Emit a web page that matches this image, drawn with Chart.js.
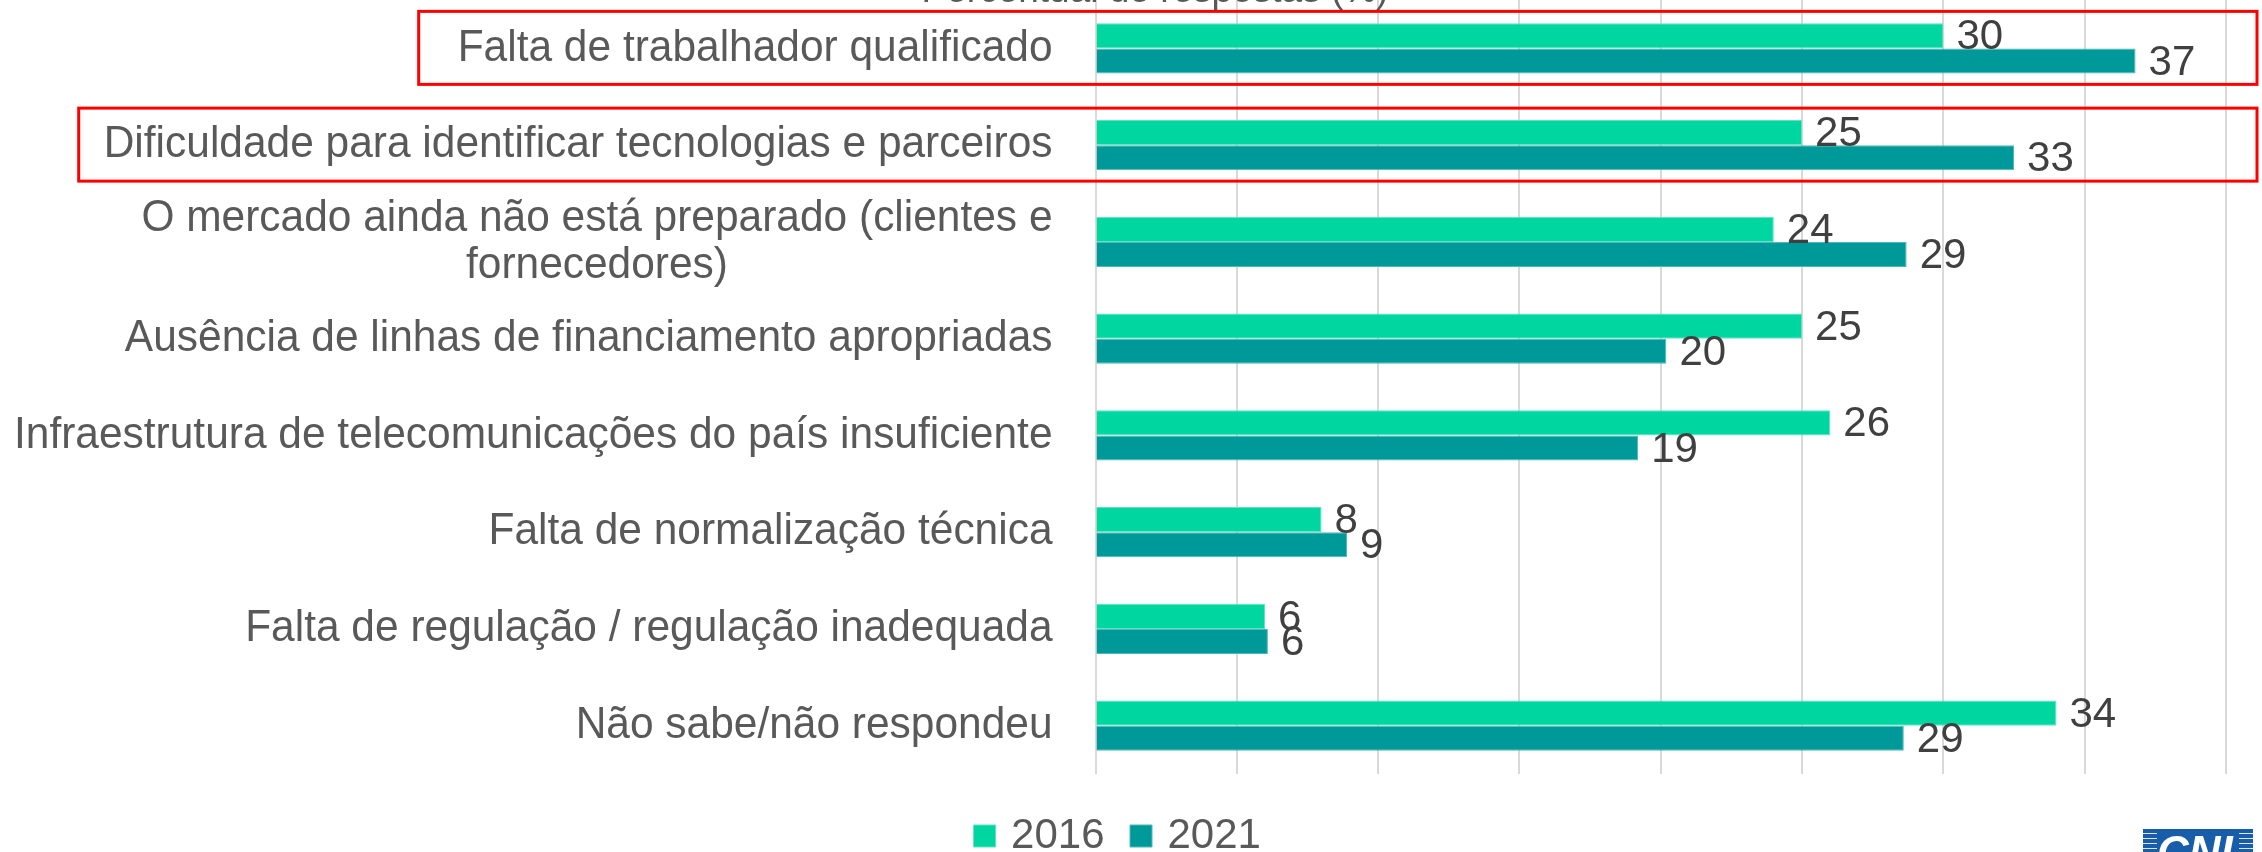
<!DOCTYPE html>
<html lang="pt-BR">
<head>
<meta charset="utf-8">
<title>Barreiras</title>
<script src="https://cdn.jsdelivr.net/npm/chart.js@4.4.0/dist/chart.umd.min.js"></script>
<style>
  html, body { margin: 0; padding: 0; background: #fff; }
  #caixa { width: 2262px; height: 852px; position: relative; }
</style>
</head>
<body>
<div id="caixa"><canvas id="grafico"></canvas></div>
<script>
// Categorias (de cima para baixo)
const categorias = [
    'Falta de trabalhador qualificado',
    'Dificuldade para identificar tecnologias e parceiros',
    ['O mercado ainda não está preparado (clientes e', 'fornecedores)'],
    'Ausência de linhas de financiamento apropriadas',
    'Infraestrutura de telecomunicações do país insuficiente',
    'Falta de normalização técnica',
    'Falta de regulação / regulação inadequada',
    'Não sabe/não respondeu'
];

// Percentual de respostas (%)
const valores2016 = [30, 25, 24, 25, 26, 8, 6, 34];
const valores2021 = [36.8, 32.5, 28.7, 20.2, 19.2, 8.9, 6.1, 28.6];

const serieNomes = ['2016', '2021'];
const tituloEixo = 'Percentual de respostas (%)';

// linhas destacadas com contorno vermelho
const destaques = [0, 1];

const fonte = '"Liberation Sans", Arial, sans-serif';
const fonteRotulo = '44px ' + fonte;
const corTexto = '#595959';
const corValor = '#404040';
const folgaRotulo = 43;   // distância entre rótulo e eixo
const estreitar = 0.965;  // fonte do original é um pouco condensada

// texto com leve compressão horizontal
function textoEstreito(ctx, texto, x, y) {
    ctx.save();
    ctx.translate(x, y);
    ctx.scale(estreitar, 1);
    ctx.fillText(texto, 0, 0);
    ctx.restore();
}

function larguraRotulo(ctx, rotulo) {
    const linhas = Array.isArray(rotulo) ? rotulo : [rotulo];
    ctx.save();
    ctx.font = fonteRotulo;
    const w = Math.max(...linhas.map(l => ctx.measureText(l).width)) * estreitar;
    ctx.restore();
    return w;
}

// Desenha rótulos, valores, título do eixo, destaques e logo
const anotacoes = {
    id: 'anotacoes',
    beforeDraw(chart) {
        const ctx = chart.ctx;
        ctx.save();
        ctx.fillStyle = '#fff';
        ctx.fillRect(0, 0, chart.width, chart.height);
        ctx.restore();
    },
    afterDraw(chart) {
        const ctx = chart.ctx;
        const eixoY = chart.scales.y;
        const xDireita = chart.chartArea.left - folgaRotulo;
        ctx.save();

        // rótulos das categorias
        ctx.font = fonteRotulo;
        ctx.fillStyle = corTexto;
        ctx.textBaseline = 'middle';
        const alturaLinha = 47;
        categorias.forEach((rotulo, i) => {
            const linhas = Array.isArray(rotulo) ? rotulo : [rotulo];
            const yc = eixoY.getPixelForValue(i);
            const maior = larguraRotulo(ctx, rotulo);
            linhas.forEach((linha, k) => {
                const y = yc + (k - (linhas.length - 1) / 2) * alturaLinha;
                if (linhas.length > 1) {
                    ctx.textAlign = 'center';
                    textoEstreito(ctx, linha, xDireita - maior / 2, y);
                } else {
                    ctx.textAlign = 'right';
                    textoEstreito(ctx, linha, xDireita, y);
                }
            });
        });

        // valores nas barras
        ctx.font = '42px ' + fonte;
        ctx.fillStyle = corValor;
        ctx.textAlign = 'left';
        chart.data.datasets.forEach((ds, d) => {
            chart.getDatasetMeta(d).data.forEach((barra, i) => {
                ctx.fillText(Math.round(ds.data[i]), barra.x + 13, barra.y + 2);
            });
        });

        // título do eixo (cortado no topo)
        ctx.font = '37px ' + fonte;
        ctx.fillStyle = corTexto;
        ctx.textAlign = 'center';
        ctx.textBaseline = 'alphabetic';
        ctx.fillText(tituloEixo, chart.width / 2 + 24, 2);

        // contornos vermelhos
        const folgas = [39, 25];
        ctx.strokeStyle = '#ff0000';
        ctx.lineWidth = 3;
        destaques.forEach((i, k) => {
            const yc = eixoY.getPixelForValue(i);
            const x0 = xDireita - larguraRotulo(ctx, categorias[i]) - folgas[k];
            ctx.strokeRect(x0, yc - 37, chart.width - 5 - x0, 73);
        });

        // logo CNI (canto inferior direito, cortado)
        const lx = chart.width - 119, ly = chart.height - 23;
        ctx.fillStyle = '#175daa';
        ctx.fillRect(lx, ly, 110, 30);
        ctx.strokeStyle = 'rgba(255,255,255,0.85)';
        ctx.lineWidth = 1;
        for (let s = 4; s < 30; s += 5) {
            ctx.beginPath();
            ctx.moveTo(lx, ly + s + 0.5); ctx.lineTo(lx + 14, ly + s + 0.5);
            ctx.moveTo(lx + 96, ly + s + 0.5); ctx.lineTo(lx + 110, ly + s + 0.5);
            ctx.stroke();
        }
        ctx.fillStyle = '#fff';
        ctx.font = 'italic bold 44px ' + fonte;
        ctx.textAlign = 'left';
        ctx.fillText('CNI', lx + 14, ly + 38);

        ctx.restore();
    }
};

new Chart(document.getElementById('grafico'), {
    type: 'bar',
    data: {
        labels: categorias,
        datasets: [
            {
                label: serieNomes[0],
                data: valores2016,
                backgroundColor: '#00d6a0',
                borderColor: '#5fe3c2',
                borderWidth: 1,
                categoryPercentage: 0.52,
                barPercentage: 1.0
            },
            {
                label: serieNomes[1],
                data: valores2021,
                backgroundColor: '#009999',
                borderColor: '#4fb8b8',
                borderWidth: 1,
                categoryPercentage: 0.52,
                barPercentage: 1.0
            }
        ]
    },
    options: {
        indexAxis: 'y',
        responsive: true,
        maintainAspectRatio: false,
        animation: false,
        layout: { padding: { top: -2, right: 36, bottom: -15, left: 14 } },
        scales: {
            x: {
                min: 0,
                max: 40,
                ticks: { display: false, stepSize: 5 },
                grid: { color: '#d9d9d9', lineWidth: 2, drawTicks: true, tickLength: 10, tickColor: 'rgba(0,0,0,0)' },
                border: { display: false }
            },
            y: {
                // o plugin desenha os rótulos; aqui só se reserva a largura
                ticks: { display: false },
                grid: { display: false },
                border: { display: false },
                afterFit(eixo) {
                    const ctx = eixo.chart.ctx;
                    eixo.width = Math.max(...categorias.map(r => larguraRotulo(ctx, r))) + folgaRotulo;
                }
            }
        },
        plugins: {
            legend: {
                position: 'bottom',
                labels: {
                    usePointStyle: true,
                    pointStyle: 'rect',
                    boxWidth: 11,
                    boxHeight: 22,
                    padding: 31,
                    color: corTexto,
                    font: { family: fonte, size: 42 }
                }
            },
            tooltip: { enabled: false }
        }
    },
    plugins: [anotacoes]
});
</script>
</body>
</html>
